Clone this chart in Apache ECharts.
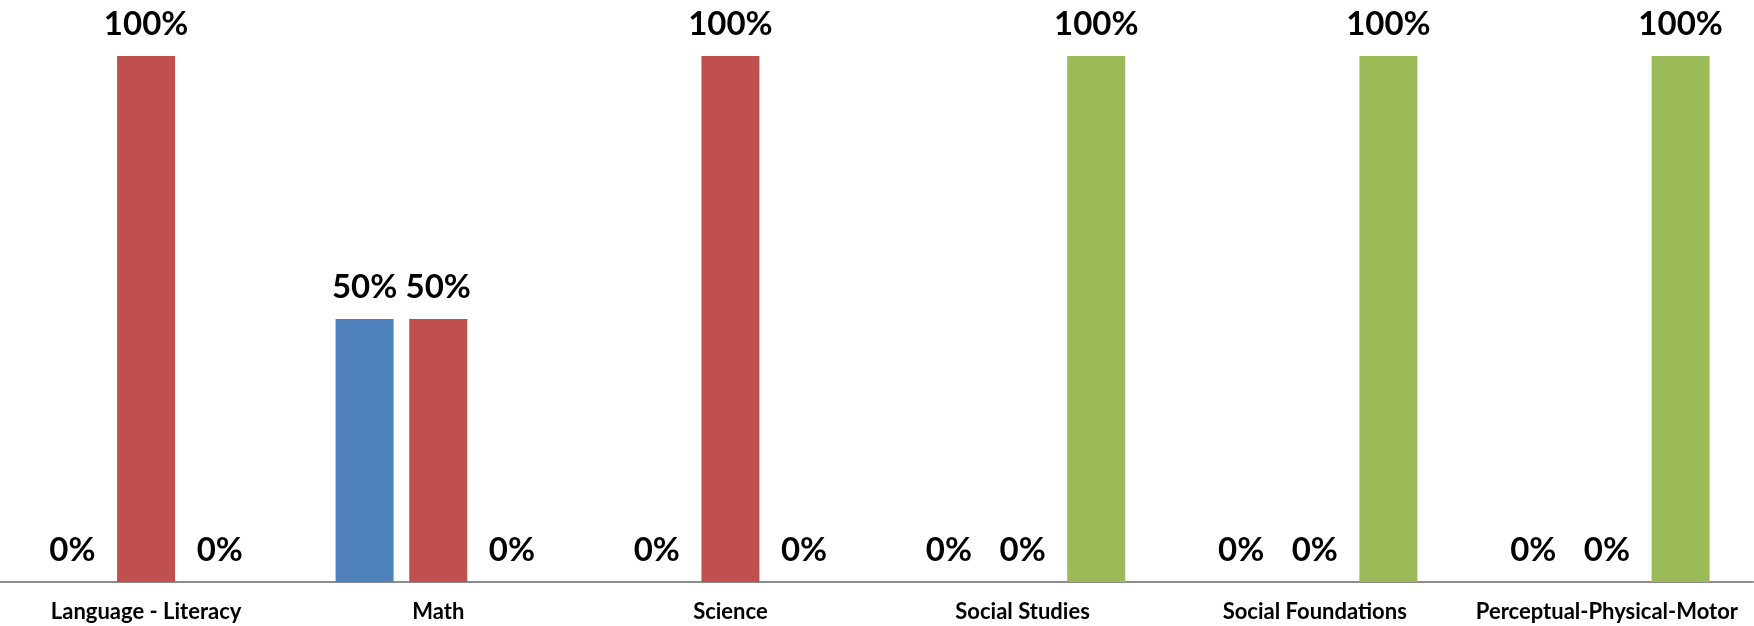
<!DOCTYPE html>
<html>
<head>
<meta charset="utf-8">
<script src="https://cdn.jsdelivr.net/npm/echarts@6/dist/echarts.min.js"></script>
<style>html,body{margin:0;padding:0;background:#fff;}#chart{width:1754px;height:626px;}</style>
</head>
<body>
<div id="chart"></div>
<script>
const categories = ['Language - Literacy', 'Math', 'Science', 'Social Studies', 'Social Foundations', 'Perceptual-Physical-Motor'];
const blueValues = [0, 50, 0, 0, 0, 0];
const redValues = [100, 50, 100, 0, 0, 0];
const greenValues = [0, 0, 0, 100, 100, 100];

const chart = echarts.init(document.getElementById('chart'));
const labelStyle = {
  show: true,
  position: 'top',
  distance: 15,
  formatter: '{c}%',
  fontFamily: 'Lato',
  fontWeight: 'bold',
  fontSize: 33,
  color: '#000'
};
function mk(name, data, color) {
  return {
    name: name, type: 'bar', data: data,
    barWidth: 58, barGap: '27%', barCategoryGap: '31%',
    itemStyle: { color: color },
    label: labelStyle
  };
}
chart.setOption({
  animation: false,
  grid: { left: 0, right: 1, top: 56, bottom: 44 },
  xAxis: {
    type: 'category',
    data: categories,
    axisTick: { show: false },
    axisLine: { lineStyle: { color: '#8c8c8c', width: 2 } },
    axisLabel: { interval: 0, margin: 19, fontFamily: 'Lato', fontWeight: 'bold', fontSize: 22, color: '#000' }
  },
  yAxis: { type: 'value', min: 0, max: 100, show: false, splitLine: { show: false } },
  series: [
    mk('Blue', blueValues, '#4F81BD'),
    mk('Red', redValues, '#C0504D'),
    mk('Green', greenValues, '#9BBB59')
  ]
});
</script>
</body>
</html>
